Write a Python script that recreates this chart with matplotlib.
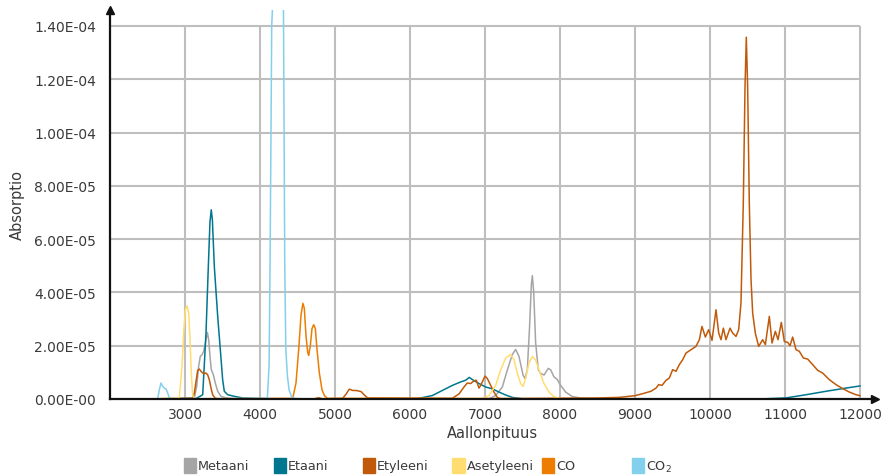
import numpy as np
import matplotlib
matplotlib.use("Agg")
import matplotlib.pyplot as plt
from matplotlib.patches import Rectangle

# ---------------- data (absorption in units of 1e-6) ----------------
metaani_x = [2500, 3124, 3156, 3182, 3204, 3227, 3249, 3280, 3298, 3316, 3333, 3351, 3378, 3404,
             3436, 3480, 3547, 3636, 4000, 6800, 7053, 7142, 7231, 7298, 7364, 7409, 7453, 7507,
             7533, 7564, 7595, 7618, 7631, 7649, 7675, 7711, 7742, 7787, 7844, 7876, 7920, 7964,
             8009, 8075, 8164, 8298, 8520, 12000]
metaani_y = [0, 0.4, 4.75, 12.25, 16, 16.6, 17.9, 22.25, 25.0, 22.25, 16, 11, 9.1, 6,
             2.9, 1.0, 0.4, 0.1, 0, 0, 0.13, 1.3, 4.5, 10.9, 16.7, 18.6, 16.0, 9.0,
             7.7, 10.9, 27.6, 42.9, 46.3, 40.4, 21.2, 10.9, 9.6, 9.0, 11.5, 10.9, 8.3, 7.3,
             5.1, 2.6, 0.9, 0.26, 0, 0]

etaani_x = [2500, 3150, 3236, 3280, 3311, 3333, 3350, 3365, 3391, 3436, 3471, 3502, 3524, 3569,
            3658, 3769, 3950, 4300, 6000, 6120, 6298, 6431, 6564, 6676, 6742, 6790, 6831, 6920,
            7009, 7098, 7187, 7276, 7364, 7498, 10658, 11013, 11280, 11547, 11813, 12000]
etaani_y = [0, 0.2, 1.6, 24.75, 49.75, 66.5, 71.0, 67.25, 49.75, 31, 18.5, 7.25, 2.9, 1.6,
            1.0, 0.4, 0.2, 0, 0, 0.26, 1.3, 3.2, 5.1, 6.4, 7.05, 8.1, 7.3, 5.8,
            4.5, 3.8, 2.6, 1.5, 0.6, 0.1, 0, 0.4, 1.6, 2.9, 4.1, 4.9]

etyleeni_x = [2500, 3102, 3124, 3147, 3169, 3191, 3213, 3236, 3258, 3280, 3302, 3324, 3347, 3369,
              3404, 3458, 4720, 4780, 4840, 5102, 5147, 5191, 5236, 5280, 5347, 5391, 5436,
              6564, 6653, 6720, 6764, 6809, 6853, 6884, 6920, 6942, 6964, 7000, 7031, 7076,
              7120, 7164, 7209, 8524, 8791, 9000, 9102, 9213, 9280, 9316, 9360, 9413, 9458,
              9502, 9547, 9591, 9636, 9680, 9747, 9813, 9858, 9893, 9938, 9982, 10027, 10080,
              10116, 10147, 10178, 10213, 10267, 10302, 10347, 10382, 10413, 10444, 10467, 10484,
              10502, 10524, 10547, 10569, 10604, 10649, 10702, 10738, 10791, 10827, 10871, 10907,
              10951, 10991, 11036, 11067, 11102, 11147, 11191, 11244, 11302, 11369, 11436, 11502,
              11591, 11680, 11769, 11858, 11947, 12000]
etyleeni_y = [0, 0.25, 2.25, 6.6, 10.75, 11.25, 10.4, 9.75, 9.5, 9.75, 9.1, 7.25, 4.1, 1.6,
              0.25, 0, 0, 0.5, 0, 0.25, 1.8, 3.7, 3.2, 3.2, 2.8, 1.5, 0.4,
              0.26, 1.9, 4.5, 6.0, 5.8, 6.8, 7.05, 4.1, 5.1, 6.4, 8.6, 7.7, 5.1,
              2.6, 0.6, 0.1, 0.4, 0.6, 1.25, 2.0, 2.9, 4.1, 5.4, 5.1, 7.0, 7.9,
              11.0, 10.4, 12.9, 14.75, 17.25, 18.5, 19.75, 22.25, 27.25, 23.25, 26.0, 22.0, 33.5,
              24.75, 22.25, 26.6, 22.25, 26.6, 24.75, 23.5, 26.0, 36.0, 73.5, 117.25, 135.8,
              117.25, 73.5, 44.75, 32.25, 24.75, 19.75, 22.25, 20.4, 31.0, 21.0, 25.4, 22.25,
              28.75, 21.6, 21.25, 20.0, 23.25, 18.5, 17.9, 15.4, 15.0, 12.9, 10.75, 9.75,
              7.25, 5.4, 3.9, 2.6, 1.6, 1.25]

asetyleeni_x = [2500, 2924, 2960, 2982, 3004, 3027, 3049, 3067, 3084, 3102, 3124, 6964, 7053, 7142,
                7209, 7276, 7342, 7387, 7431, 7476, 7507, 7542, 7587, 7631, 7675, 7720, 7787, 7853,
                7920, 7987, 8075, 12000]
asetyleeni_y = [0, 0.4, 12.25, 24.75, 33.5, 35.0, 32.25, 22.25, 9.75, 1.6, 0.1, 0.13, 1.3, 5.1,
                10.9, 15.4, 16.7, 14.7, 9.6, 5.8, 4.7, 7.7, 13.5, 16.0, 14.7, 10.9, 5.8, 2.6,
                0.9, 0.26, 0, 0]

co_x = [2500, 4436, 4480, 4516, 4547, 4572, 4591, 4613, 4636, 4649, 4671, 4693, 4716, 4738, 4760,
        4791, 4827, 4862, 4902, 12000]
co_y = [0, 0.25, 6.0, 18.7, 31.5, 35.9, 34.0, 23.8, 17.5, 16.4, 20.0, 26.4, 27.9, 26.4, 18.7,
        9.8, 3.4, 1.1, 0.25, 0]

co2_x = [2600, 2636, 2658, 2680, 2702, 2724, 2747, 2769, 2791, 2850, 4098, 4121, 4134, 4147, 4156,
         4165, 4240, 4313, 4321, 4330, 4344, 4366, 4388, 4420, 4455, 4600, 12000]
co2_y = [0, 0.1, 3.5, 6.0, 4.75, 4.1, 3.75, 2.25, 0.4, 0, 0.25, 12.4, 50.6, 101.5, 139.7,
         146, 170, 146, 101.5, 50.6, 18.7, 8.5, 3.4, 0.9, 0.25, 0, 0]

series_names = ["Metaani", "Etaani", "Etyleeni", "Asetyleeni", "CO", "CO$_\\mathregular{2}$"]
series_colors = ["#A5A5A5", "#00768F", "#C05A0A", "#FFDD70", "#EC7D00", "#82D0EC"]

x_ticks = [3000, 4000, 5000, 6000, 7000, 8000, 9000, 10000, 11000, 12000]
y_ticks = [0, 2e-5, 4e-5, 6e-5, 8e-5, 1e-4, 1.2e-4, 1.4e-4]
y_tick_labels = ["0.00E-00", "2.00E-05", "4.00E-05", "6.00E-05", "8.00E-05",
                 "1.00E-04", "1.20E-04", "1.40E-04"]

# ---------------- plot ----------------
plt.rcParams['font.family'] = ['DejaVu Sans']
text_col = "#3a3a3a"
grid_col = "#BEBEBE"

fig = plt.figure(figsize=(8.89, 4.77), dpi=100)
ax = fig.add_axes([110/889, 1-400/477, 765/889, 389/477])
ax.set_xlim(2000, 12200)
ax.set_ylim(0, 1.46e-4)

# grid (stops at the last ticks, like the reference)
ax.vlines(x_ticks, 0, y_ticks[-1], colors=grid_col, lw=1.5, zorder=0)
ax.hlines(y_ticks[1:], 2000, x_ticks[-1], colors=grid_col, lw=1.5, zorder=0)

data = [(metaani_x, metaani_y), (etaani_x, etaani_y), (etyleeni_x, etyleeni_y),
        (asetyleeni_x, asetyleeni_y), (co_x, co_y), (co2_x, co2_y)]
order = [5, 3, 0, 4, 2, 1]
for i in order:
    xs, ys = data[i]
    ax.plot(xs, np.array(ys) * 1e-6, color=series_colors[i], lw=1.1, zorder=2 + i * 0.01,
            solid_joinstyle="round")

for s in ["top", "right"]:
    ax.spines[s].set_visible(False)
for s in ["left", "bottom"]:
    ax.spines[s].set_color("#111111")
    ax.spines[s].set_linewidth(1.6)
    ax.spines[s].set_zorder(5)
ax.plot(1, 0, marker=">", color="#111111", markersize=6, transform=ax.transAxes,
        clip_on=False, zorder=6)
ax.plot(0, 1, marker="^", color="#111111", markersize=6, transform=ax.transAxes,
        clip_on=False, zorder=6)

ax.set_xticks(x_ticks)
ax.set_xticklabels([str(v) for v in x_ticks])
ax.set_yticks(y_ticks)
ax.set_yticklabels(y_tick_labels)
ax.tick_params(axis="both", length=0, labelsize=10, colors=text_col)
ax.tick_params(axis="y", pad=10)
ax.tick_params(axis="x", pad=6)

ax.set_xlabel("Aallonpituus", fontsize=10.5, color=text_col, labelpad=3)
ax.set_ylabel("Absorptio", fontsize=10.5, color=text_col, labelpad=7)

# legend (evenly spaced entries like the reference)
W, H = 889, 477
for i, name in enumerate(series_names):
    x0 = 184 + i * 89.5
    fig.patches.append(Rectangle((x0 / W, 1 - 474 / H), 12 / W, 15 / H,
                                 transform=fig.transFigure, color=series_colors[i]))
    fig.text((x0 + 14) / W, 1 - 467 / H, name, fontsize=9.2, color=text_col,
             ha="left", va="center")

fig.savefig("out.png", dpi=100)
